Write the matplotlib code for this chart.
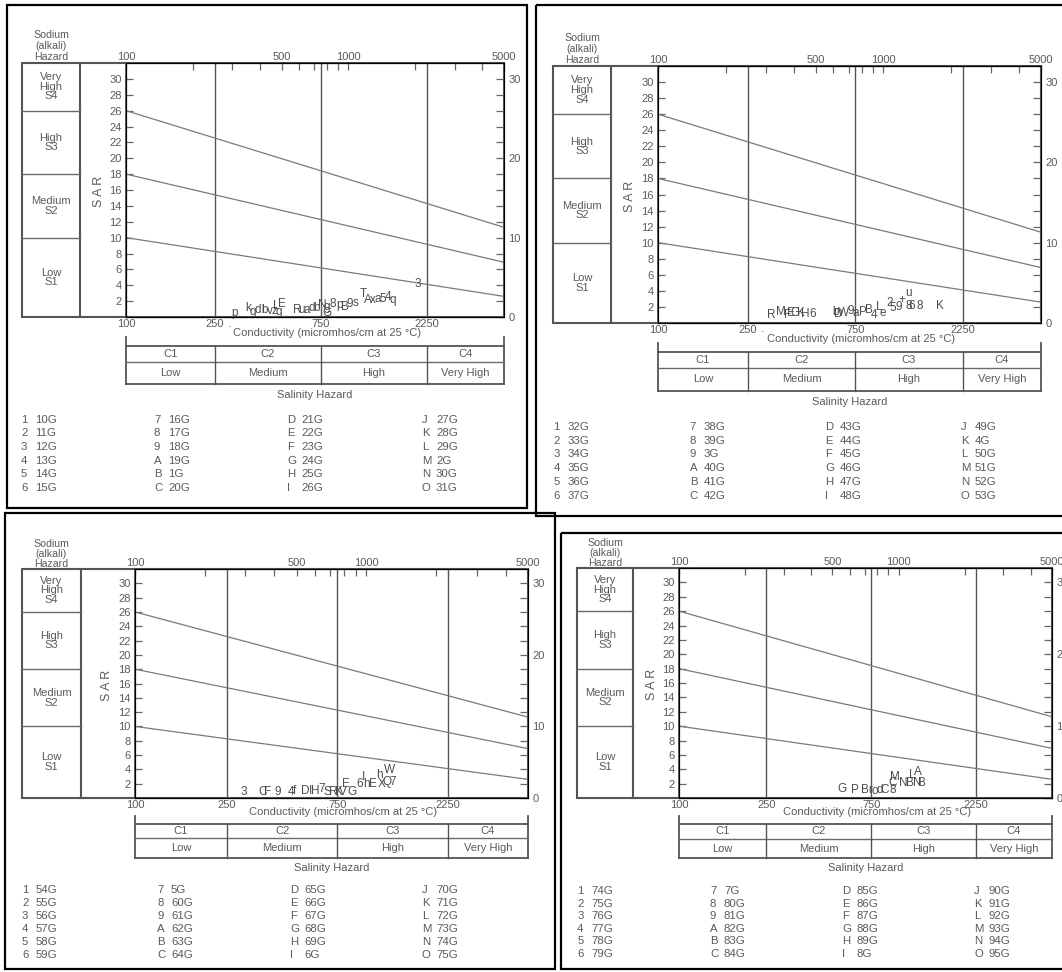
import numpy as np
import matplotlib
matplotlib.use("Agg")
import matplotlib.pyplot as plt
from matplotlib.patches import Rectangle
from matplotlib.ticker import FixedLocator, NullFormatter

plt.rcParams['font.family'] = ['Liberation Sans', 'DejaVu Sans']

W, H = 1062, 972
TXT = '#5a5a5a'
LINE = '#6a6a6a'

# salinity classes / sodium classes
EC_BREAKS = [250, 750, 2250]
C_CLASSES = ['C1', 'C2', 'C3', 'C4']
C_NAMES = ['Low', 'Medium', 'High', 'Very High']
S_BREAKS = [26, 18, 10]
S_NAMES = ['Very\nHigh\nS4', 'High\nS3', 'Medium\nS2', 'Low\nS1']
S_CENTERS = [29, 22, 14, 5]

# SAR of the three class boundaries at EC = 100 and EC = 5000
BOUND_EC = [100, 5000]
BOUNDS = [[26, 11.3], [18, 6.9], [10, 2.6]]

KEYS = list('123456789ABCDEFGHIJKLMNO')
P1_SAMPLES = ['10G', '11G', '12G', '13G', '14G', '15G', '16G', '17G', '18G', '19G', '1G', '20G',
              '21G', '22G', '23G', '24G', '25G', '26G', '27G', '28G', '29G', '2G', '30G', '31G']
P2_SAMPLES = ['32G', '33G', '34G', '35G', '36G', '37G', '38G', '39G', '3G', '40G', '41G', '42G',
              '43G', '44G', '45G', '46G', '47G', '48G', '49G', '4G', '50G', '51G', '52G', '53G']
P3_SAMPLES = ['54G', '55G', '56G', '57G', '58G', '59G', '5G', '60G', '61G', '62G', '63G', '64G',
              '65G', '66G', '67G', '68G', '69G', '6G', '70G', '71G', '72G', '73G', '74G', '75G']
P4_SAMPLES = ['74G', '75G', '76G', '77G', '78G', '79G', '7G', '80G', '81G', '82G', '83G', '84G',
              '85G', '86G', '87G', '88G', '89G', '8G', '90G', '91G', '92G', '93G', '94G', '95G']

# plotted point labels (EC, SAR)
P1_LAB = ['.', 'p', 'k', 'g', 'd', 'l', 'b', 'v', 'z', 'g', 'L', 'E', 'R', 'u', 'a', 'd', 'b', 'N',
          'g', '8', 'p', 'B', 'G', '9', 's', 'T', 'A', 'x', 'a', '5', '4', 'q', '3']
P1_EC = [293, 306, 353, 372, 392, 409, 421, 444, 463, 487, 472, 502, 587, 618, 651, 686, 715, 760,
         801, 852, 907, 965, 801, 1016, 1081, 1163, 1224, 1290, 1358, 1430, 1506, 1586, 2050]
P1_SAR = [-0.9, 0.5, 1.1, 0.6, 0.9, 0.9, 0.9, 0.7, 0.7, 0.6, 1.4, 1.7, 0.9, 0.9, 0.9, 1.1, 1.1,
          1.5, 1.2, 1.6, 1.5, 1.3, 0.5, 1.7, 1.8, 2.9, 2.2, 2.1, 2.3, 2.3, 2.5, 2.2, 4.1]

P2_LAB = ['.', 'R', 'M', 'F', 'E', 'G', 'K', 'H', '6', 'b', 'D', 'W', '9', 'a', 'P', 'B', '4', 'L',
          'e', '2', '5', '9', '+', 'u', '8', '6', '8', 'K']
P2_EC = [290, 319, 350, 376, 388, 404, 430, 452, 486, 610, 628, 668, 718, 757, 813, 865, 910, 957,
         998, 1062, 1106, 1164, 1213, 1290, 1290, 1330, 1444, 1774]
P2_SAR = [-0.8, 1.0, 1.4, 1.0, 1.2, 1.2, 1.2, 1.1, 1.1, 1.4, 1.1, 1.3, 1.5, 1.2, 1.4, 1.6, 1.0, 2.0,
          1.2, 2.5, 1.9, 2.0, 2.9, 3.7, 2.1, 2.1, 2.1, 2.1]

P3_LAB = ['3', 'C', 'F', '9', '4', 'f', 'D', 'I', 'H', '7', 'S', 'R', 'K', 'V', 'G', 'E', '6', 'h',
          'E', 'X', 'Q', '7', 'I', 'h', 'W']
P3_EC = [296, 357, 376, 415, 472, 490, 543, 571, 600, 640, 680, 720, 760, 793, 867, 820, 940, 1000,
         1069, 1169, 1228, 1303, 968, 1135, 1254]
P3_SAR = [0.8, 0.9, 0.8, 0.9, 0.8, 1.0, 1.0, 1.0, 1.0, 1.2, 0.9, 0.8, 0.9, 0.9, 0.8, 1.9, 1.9, 1.9,
          1.9, 1.9, 2.3, 2.2, 2.9, 3.2, 3.9]

P4_LAB = ['G', 'P', 'B', 'r', 'o', 'd', 'C', '8', 'C', 'M', 'N', 'B', 'N', 'B', 'L', 'A']
P4_EC = [553, 633, 703, 740, 780, 823, 868, 944, 944, 964, 1048, 1127, 1213, 1279, 1151, 1227]
P4_SAR = [1.25, 1.1, 1.1, 1.1, 1.0, 1.1, 1.1, 1.1, 2.1, 2.9, 2.1, 2.1, 2.1, 2.1, 3.2, 3.6]

FS = 8.0


def ec2px(ec, l, w):
    return l + w * np.log10(ec / 100.0) / np.log10(50.0)


def draw_panel(fig, ov, border, plot, samples, lab, ec, sar, sbox=None, keycols=None, keystep=13.5):
    l, t, r, b = plot
    w, h = r - l, b - t
    sy = h / 255.0

    bx0, by0, bx1, by1 = border
    ov.add_patch(Rectangle((bx0, by0), bx1 - bx0, by1 - by0, fill=False, ec='black', lw=1.6))

    # sodium hazard column
    if sbox is None:
        sl, sr = l - 0.274 * w, l - 0.123 * w
    else:
        sl, sr = sbox
    ov.add_patch(Rectangle((sl, t), r - sl, h, fill=False, ec='#555555', lw=1.5))
    ov.plot([sr, sr], [t, b], color='#555555', lw=1.5)
    for s in S_BREAKS:
        yy = b - s / 32.0 * h
        ov.plot([sl, sr], [yy, yy], color=LINE, lw=1.0)
    for name, s in zip(S_NAMES, S_CENTERS):
        ov.text((sl + sr) / 2, b - s / 32.0 * h, name, ha='center', va='center',
                fontsize=FS, color=TXT, linespacing=0.95)
    for txt, dy in zip(['Sodium', '(alkali)', 'Hazard'], [28, 17, 6]):
        ov.text((sl + sr) / 2, t - dy * sy, txt, ha='center', va='center', fontsize=7.6, color=TXT)
    ov.text(l - 0.072 * w, b - 15.8 / 32.0 * h, 'S A R', rotation=90, ha='center', va='center',
            fontsize=9, color=TXT)

    # main axes
    ax = fig.add_axes([l / W, 1 - b / H, w / W, h / H])
    ax.set_facecolor('none')
    ax.set_xscale('log')
    ax.set_xlim(100, 5000)
    ax.set_ylim(0, 32)
    for sp in ax.spines.values():
        sp.set_color('#555555')
        sp.set_linewidth(1.3)
    ax.xaxis.set_major_locator(FixedLocator([100, 250, 750, 2250]))
    ax.xaxis.set_minor_locator(FixedLocator([]))
    ax.set_xticklabels(['100', '250', '750', '2250'])
    ax.tick_params(axis='x', length=0, pad=1.5, labelsize=FS, labelcolor=TXT)
    ax.set_yticks(range(2, 31, 2))
    ax.tick_params(axis='y', direction='in', length=5, width=0.9, color='#666666',
                   labelsize=FS, labelcolor=TXT, pad=3)
    for e in EC_BREAKS:
        ax.axvline(e, color='#555555', lw=1.0)
    for bd in BOUNDS:
        ax.plot(BOUND_EC, bd, color='#7a7a7a', lw=0.9)
    for s_, x_, y_ in zip(lab, ec, sar):
        ax.text(x_, y_, s_, ha='center', va='center', fontsize=8.5, color='#4d4d4d', clip_on=False)

    axr = ax.twinx()
    axr.set_ylim(0, 32)
    axr.set_yticks(range(0, 31, 2))
    axr.set_yticklabels([str(v) if v % 10 == 0 else '' for v in range(0, 31, 2)])
    axr.tick_params(axis='y', direction='in', length=6, width=0.9, color='#666666',
                    labelsize=FS, labelcolor=TXT, pad=3)
    axr.spines['right'].set_color('#555555')
    axr.spines['right'].set_linewidth(1.3)

    axt = ax.twiny()
    axt.set_xscale('log')
    axt.set_xlim(100, 5000)
    axt.xaxis.set_major_locator(FixedLocator([100, 500, 1000, 5000]))
    axt.set_xticklabels(['100', '500', '1000', '5000'])
    axt.xaxis.set_minor_locator(FixedLocator([200, 300, 400, 600, 700, 800, 900, 2000, 3000, 4000]))
    axt.xaxis.set_minor_formatter(NullFormatter())
    axt.tick_params(axis='x', which='both', direction='in', length=5, width=0.9, color='#666666',
                    labelsize=FS, labelcolor=TXT, pad=1)

    # salinity hazard table
    ov.text((l + r) / 2 + 12, b + 16 * sy, 'Conductivity (micromhos/cm at 25 \u00b0C)',
            ha='center', va='center', fontsize=FS, color=TXT)
    y_br, y_top, y_mid, y_bot = b + 20 * sy, b + 29 * sy, b + 45 * sy, b + 67 * sy
    ov.plot([l, l], [y_br, y_bot], color='#555555', lw=1.3)
    ov.plot([r, r], [y_br, y_bot], color='#555555', lw=1.3)
    ov.plot([l, r], [y_top, y_top], color='#555555', lw=1.3)
    ov.plot([l, r], [y_mid, y_mid], color=LINE, lw=1.0)
    ov.plot([l, r], [y_bot, y_bot], color='#555555', lw=1.3)
    xs = [l] + [ec2px(e, l, w) for e in EC_BREAKS] + [r]
    for xx in xs[1:-1]:
        ov.plot([xx, xx], [y_top, y_bot], color='#555555', lw=1.0)
    for i in range(4):
        cx = (xs[i] + xs[i + 1]) / 2
        ov.text(cx, (y_top + y_mid) / 2, C_CLASSES[i], ha='center', va='center', fontsize=FS, color=TXT)
        ov.text(cx, (y_mid + y_bot) / 2, C_NAMES[i], ha='center', va='center', fontsize=FS, color=TXT)
    ov.text((l + r) / 2, b + 78 * sy, 'Salinity Hazard', ha='center', va='center',
            fontsize=FS, color=TXT)

    # key
    if keycols is None:
        keycols = [l + c * w for c in [-0.273, 0.083, 0.437, 0.791]]
    for i, (k, smp) in enumerate(zip(KEYS, samples)):
        c, rw = divmod(i, 6)
        x0 = keycols[c]
        y0 = b + 103 * sy + keystep * rw
        ov.text(x0, y0, k, ha='left', va='center', fontsize=8.2, color=TXT)
        ov.text(x0 + 14, y0, smp, ha='left', va='center', fontsize=8.2, color=TXT)


fig = plt.figure(figsize=(W / 100, H / 100), dpi=100)
ov = fig.add_axes([0, 0, 1, 1])
ov.set_xlim(0, W)
ov.set_ylim(H, 0)
ov.axis('off')

draw_panel(fig, ov, (7, 5, 527, 508), (126, 63, 504, 317), P1_SAMPLES, P1_LAB, P1_EC, P1_SAR,
           keycols=[21, 154, 287, 422], keystep=13.7)
draw_panel(fig, ov, (536, 5, 1075, 516), (658, 66, 1041, 323), P2_SAMPLES, P2_LAB, P2_EC, P2_SAR,
           keystep=13.8)
draw_panel(fig, ov, (5, 513, 555, 969), (135, 569, 528, 798), P3_SAMPLES, P3_LAB, P3_EC, P3_SAR,
           sbox=(22, 81), keycols=[22, 157, 290, 422], keystep=13.0)
draw_panel(fig, ov, (561, 533, 1075, 969), (679, 568, 1052, 798), P4_SAMPLES, P4_LAB, P4_EC, P4_SAR,
           keystep=12.6)

fig.savefig('out.png', dpi=100, facecolor='white')
